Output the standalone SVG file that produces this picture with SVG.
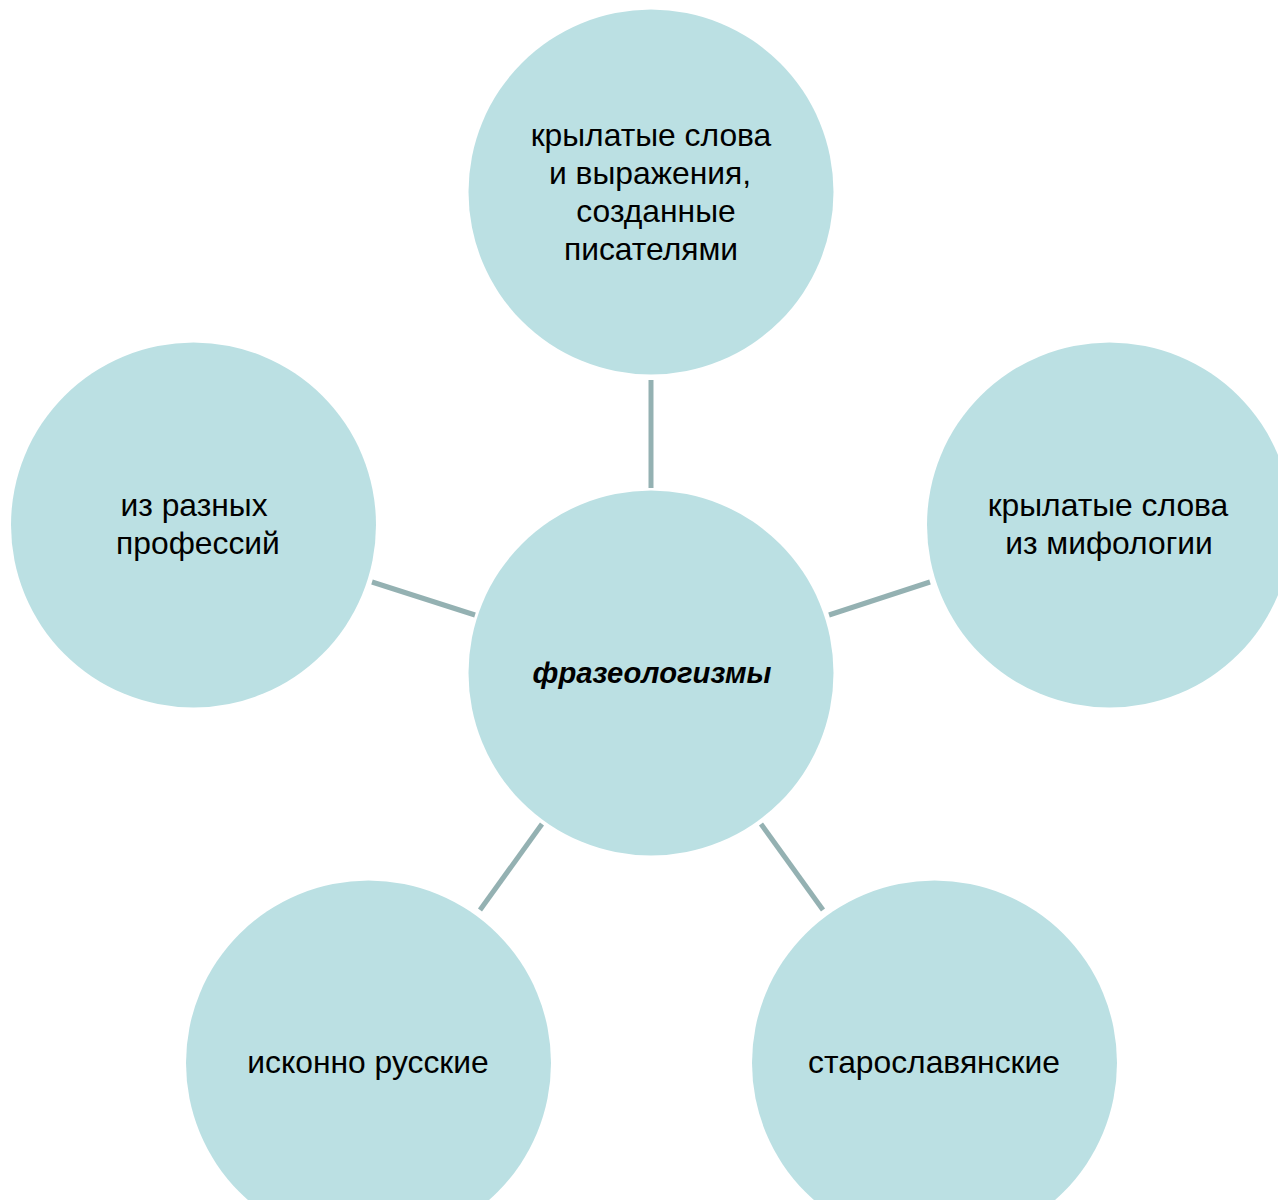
<svg xmlns="http://www.w3.org/2000/svg" width="1278" height="1200" viewBox="0 0 1278 1200">
<style>
.n{fill:#bbe0e3}
.t{font-family:"Liberation Sans",Arial,sans-serif;font-size:31.8px;fill:#000;text-anchor:middle}
.b{font-weight:bold;font-style:italic;font-size:29.2px}
.c{stroke:#94b1b2;stroke-width:5;fill:none}
</style>
<rect width="1278" height="1200" fill="#fff"/>
<g id="connectors">
<line class="c" x1="651" y1="380" x2="651" y2="488"/>
<line class="c" x1="372" y1="582" x2="475" y2="615"/>
<line class="c" x1="829" y1="615" x2="930" y2="582"/>
<line class="c" x1="542" y1="824" x2="480" y2="910"/>
<line class="c" x1="761" y1="824" x2="823" y2="910"/>
</g>
<g id="center">
<circle class="n" cx="651" cy="673" r="182.5"/>
<text class="t b" x="652" y="683">фразеологизмы</text>
</g>
<g id="top">
<circle class="n" cx="651" cy="192" r="182.5"/>
<text class="t" x="651" y="146">крылатые слова</text>
<text class="t" x="650" y="184">и выражения,</text>
<text class="t" x="656" y="222">созданные</text>
<text class="t" x="651" y="260">писателями</text>
</g>
<g id="right">
<circle class="n" cx="1109.5" cy="525" r="182.5"/>
<text class="t" x="1108" y="516">крылатые слова</text>
<text class="t" x="1109" y="554">из мифологии</text>
</g>
<g id="left">
<circle class="n" cx="193.5" cy="525" r="182.5"/>
<text class="t" x="194" y="516">из разных</text>
<text class="t" x="198" y="554">профессий</text>
</g>
<g id="bottom-left">
<circle class="n" cx="368.5" cy="1063" r="182.5"/>
<text class="t" x="368" y="1073">исконно русские</text>
</g>
<g id="bottom-right">
<circle class="n" cx="934.5" cy="1063" r="182.5"/>
<text class="t" x="934" y="1073">старославянские</text>
</g>
</svg>
